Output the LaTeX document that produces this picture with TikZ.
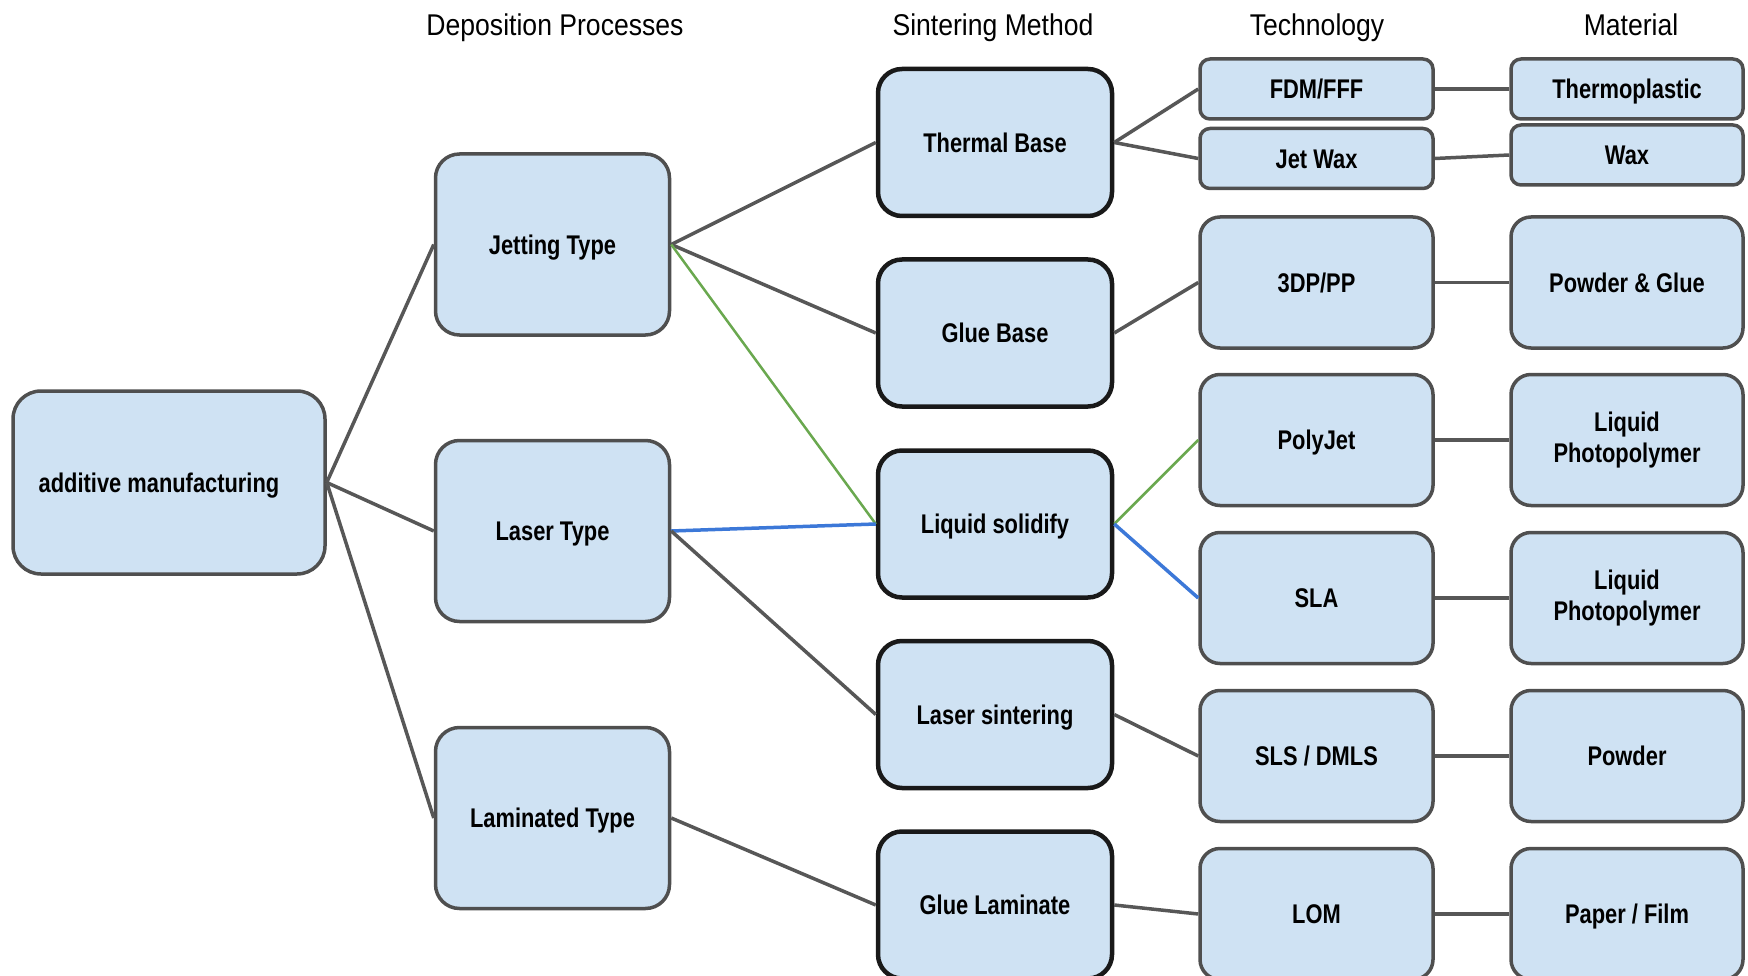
\documentclass[tikz,border=0pt]{standalone}
\usepackage{fontspec}
\setmainfont[FakeStretch=0.81]{Liberation Sans}
\newfontfamily\headfont[FakeStretch=0.886]{Liberation Sans}
\definecolor{boxfill}{HTML}{CFE2F3}
\definecolor{boxline}{HTML}{4F4F4F}
\definecolor{linkgray}{HTML}{575757}
\definecolor{linkgreen}{HTML}{6AA84F}
\definecolor{linkblue}{HTML}{3C78D8}
\begin{document}
\begin{tikzpicture}[x=1pt,y=-1pt,
  box/.style={draw=boxline, line width=3.5pt, fill=boxfill, rounded corners=24pt,
    inner sep=0pt, align=center, text height=19.5pt, text depth=0pt,
    font=\fontsize{27}{31}\selectfont\bfseries},
  twoline/.style={text height={}, text depth={}},
  bigbox/.style={box, minimum width=234pt, minimum height=181pt},
  sinterbox/.style={box, draw=black!90, line width=4.5pt, minimum width=234pt, minimum height=147pt},
  techbox/.style={box, minimum width=233pt, minimum height=131pt, rounded corners=20pt},
  smallbox/.style={box, minimum width=233pt, minimum height=60pt, rounded corners=10pt},
  header/.style={font=\headfont\fontsize{30}{34}\selectfont, inner sep=0pt, anchor=base},
  link/.style={draw=linkgray, line width=3.5pt},
  glink/.style={draw=linkgreen, line width=2.5pt},
  blink/.style={draw=linkblue, line width=3.5pt}]
\useasboundingbox (0,0) rectangle (1748,976);
\begin{scope}
\clip (0,0) rectangle (1748,976);
% headers
\node[header] (h1) at (555,36) {Deposition Processes};
\node[header] (h2) at (993,36) {Sintering Method};
\node[header] (h3) at (1317,36) {Technology};
\node[header] (h4) at (1631,36) {Material};
% root
\node[box, minimum width=312pt, minimum height=183pt, rounded corners=28pt] (am) at (169,482.5) {additive manufacturing\hspace*{20pt}};
% deposition
\node[bigbox] (jet) at (552.5,244.5) {Jetting Type};
\node[bigbox] (las) at (552.5,531) {Laser Type};
\node[bigbox] (lam) at (552.5,818) {Laminated Type};
% sintering
\node[sinterbox] (thb) at (995,142.5) {Thermal Base};
\node[sinterbox] (glb) at (995,333) {Glue Base};
\node[sinterbox] (liq) at (995,524) {Liquid solidify};
\node[sinterbox] (lss) at (995,714.5) {Laser sintering};
\node[sinterbox] (gll) at (995,905) {Glue Laminate};
% technology
\node[smallbox] (fdm) at (1316.5,89) {FDM/FFF};
\node[smallbox] (jwx) at (1316.5,158.5) {Jet Wax};
\node[techbox] (tdp) at (1316.5,282.5) {3DP/PP};
\node[techbox] (pjt) at (1316.5,440) {PolyJet};
\node[techbox] (sla) at (1316.5,598) {SLA};
\node[techbox] (sls) at (1316.5,756) {SLS / DMLS};
\node[techbox] (lom) at (1316.5,914) {LOM};
% material
\node[smallbox, minimum width=232pt] (thp) at (1627,89) {Thermoplastic};
\node[smallbox, minimum width=232pt] (wax) at (1627,155) {Wax};
\node[techbox, minimum width=232pt] (pdg) at (1627,282.5) {Powder \& Glue};
\node[techbox, minimum width=232pt, twoline] (lp1) at (1627,440) {Liquid\\Photopolymer};
\node[techbox, minimum width=232pt, twoline] (lp2) at (1627,598) {Liquid\\Photopolymer};
\node[techbox, minimum width=232pt] (pwd) at (1627,756) {Powder};
\node[techbox, minimum width=232pt] (ppf) at (1627,914) {Paper / Film};
% connectors
\draw[link] (am.east) -- (jet.west);
\draw[link] (am.east) -- (las.west);
\draw[link] (am.east) -- (lam.west);
\draw[link] (jet.east) -- (thb.west);
\draw[link] (jet.east) -- (glb.west);
\draw[glink] (jet.east) -- (liq.west);
\draw[blink] (las.east) -- (liq.west);
\draw[link] (las.east) -- (lss.west);
\draw[link] (lam.east) -- (gll.west);
\draw[link] (thb.east) -- (fdm.west);
\draw[link] (thb.east) -- (jwx.west);
\draw[link] (glb.east) -- (tdp.west);
\draw[glink] (liq.east) -- (pjt.west);
\draw[blink] (liq.east) -- (sla.west);
\draw[link] (lss.east) -- (sls.west);
\draw[link] (gll.east) -- (lom.west);
\draw[link] (fdm.east) -- (thp.west);
\draw[link] (jwx.east) -- (wax.west);
\draw[link] (tdp.east) -- (pdg.west);
\draw[link] (pjt.east) -- (lp1.west);
\draw[link] (sla.east) -- (lp2.west);
\draw[link] (sls.east) -- (pwd.west);
\draw[link] (lom.east) -- (ppf.west);
\end{scope}
\end{tikzpicture}
\end{document}
